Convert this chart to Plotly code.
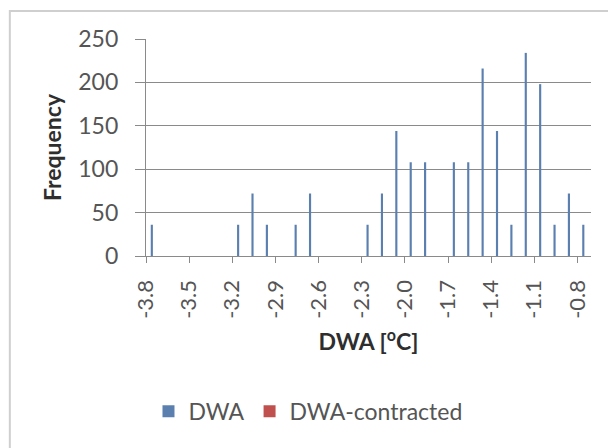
import plotly.graph_objects as go

# DWA bins (degC) and frequencies
bins = [-3.8, -3.7, -3.6, -3.5, -3.4, -3.3, -3.2, -3.1, -3.0, -2.9, -2.8,
        -2.7, -2.6, -2.5, -2.4, -2.3, -2.2, -2.1, -2.0, -1.9, -1.8, -1.7,
        -1.6, -1.5, -1.4, -1.3, -1.2, -1.1, -1.0, -0.9, -0.8]
dwa = [36, 0, 0, 0, 0, 0, 36, 72, 36, 0, 36,
       72, 0, 0, 0, 36, 72, 144, 108, 108, 0, 108,
       108, 216, 144, 36, 234, 198, 36, 72, 36]
dwa_contracted = [0, 0, 0, 0, 0, 0, 0, 0, 0, 0, 0,
                  0, 0, 0, 0, 0, 0, 0, 0, 0, 0, 0,
                  0, 0, 0, 0, 0, 0, 0, 0, 0]
tick_labels = ["-3.8", "-3.5", "-3.2", "-2.9", "-2.6", "-2.3",
               "-2.0", "-1.7", "-1.4", "-1.1", "-0.8"]
tick_vals = bins[::3]

font = "Lato"
grid = "#8a8a8a"
label_col = "#555555"

fig = go.Figure()
fig.add_trace(go.Bar(x=bins, y=dwa, name="DWA", marker_color="#5b80b0",
                     marker_line_width=0, width=0.015, offset=0.033))
fig.add_trace(go.Bar(x=bins, y=dwa_contracted, name="DWA-contracted",
                     marker_color="#c0504d", marker_line_width=0,
                     width=0.015, offset=0.05))

# the page body adds an offset, so margins are shifted a little
fig.update_layout(
    width=616, height=448,
    margin=dict(l=138, r=33, t=31, b=200, autoexpand=False),
    paper_bgcolor="white", plot_bgcolor="white",
    barmode="overlay",
    font=dict(family=font, size=22, color=label_col),
    showlegend=True,
    legend=dict(orientation="h", xref="container", yref="container",
                x=0.487, xanchor="center", y=0.10, yanchor="middle",
                font=dict(size=23, color=label_col), itemwidth=30,
                tracegroupgap=0),
    shapes=[dict(type="rect", xref="paper", yref="paper",
                 x0=-0.306, x1=1.5, y0=-1.5, y1=1.129,
                 line=dict(color="#cfcfcf", width=2), layer="below")],
)

fig.update_xaxes(
    automargin=False,
    range=[-3.8, -0.706],
    tickvals=tick_vals, ticktext=tick_labels, tickangle=-90,
    ticks="outside", ticklen=6, tickcolor=grid, ticklabelstandoff=8,
    showgrid=False, zeroline=False,
    showline=True, linecolor=grid, linewidth=1.3,
    tickfont=dict(size=22, color=label_col),
    title=dict(text="<b>DWA [<sup>o</sup>C]</b>", standoff=16,
               font=dict(size=23, color="#2e2e2e", family=font)),
)
fig.update_yaxes(
    automargin=False,
    range=[0, 250], tickvals=[0, 50, 100, 150, 200, 250],
    ticks="outside", ticklen=10, tickcolor=grid, ticklabelstandoff=12,
    showgrid=True, gridcolor=grid, gridwidth=1.3, zeroline=False,
    showline=True, linecolor=grid, linewidth=1.3,
    tickfont=dict(size=23, color=label_col),
    title=dict(text="<b>Frequency</b>", standoff=10,
               font=dict(size=23, color="#2e2e2e", family=font)),
)

fig.write_html("out.html")
